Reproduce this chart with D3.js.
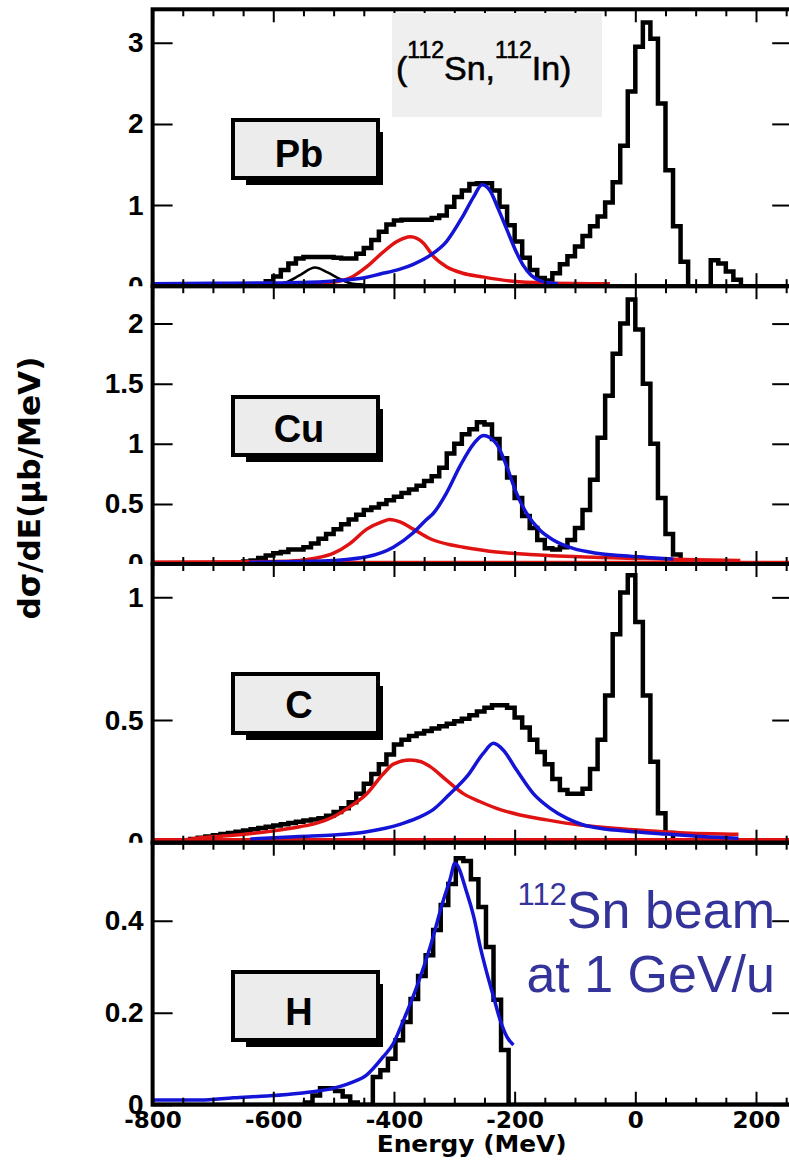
<!DOCTYPE html>
<html>
<head>
<meta charset="utf-8">
<script src="https://cdn.jsdelivr.net/npm/d3@7"></script>
<style>
  body { margin: 0; background: #fff; }
  svg { display: block; }
</style>
</head>
<body>
<svg id="chart"></svg>
<script>
// energy axis, one x scale shared by the four panels
const energyDomain = [-800, 260];
const energyLabels = [-800, -600, -400, -200, 0, 200];

const targets = ['Pb', 'Cu', 'C', 'H'];
const yMax = [3.412, 2.311, 1.136, 0.5696];
const yTickValues = [[0, 1, 2, 3], [0, 0.5, 1, 1.5, 2], [0, 0.5, 1], [0, 0.2, 0.4]];

// histograms, 12.5 MeV bins: first bin low edge + contents (ub/MeV)
const binWidth = 12.5;
const pbStart = -625;
const pbCounts = [
  0.02, 0.06, 0.12, 0.2, 0.28, 0.34, 0.36, 0.36,
  0.36, 0.36, 0.35, 0.34, 0.34, 0.4, 0.47, 0.57,
  0.67, 0.76, 0.81, 0.82, 0.82, 0.82, 0.82, 0.84,
  0.87, 0.98, 1.1, 1.18, 1.26, 1.27, 1.27, 1.18,
  0.98, 0.75, 0.55, 0.35, 0.2, 0.1, 0.07, 0.16,
  0.27, 0.37, 0.49, 0.62, 0.74, 0.86, 1.03, 1.28,
  1.73, 2.4, 2.95, 3.25, 3.05, 2.25, 1.43, 0.74,
  0.3, 0, 0, 0, 0.32, 0.28, 0.18, 0.08
];
const cuStart = -650;
const cuCounts = [
  0.02, 0.03, 0.05, 0.07, 0.09, 0.1, 0.12, 0.12,
  0.14, 0.17, 0.21, 0.25, 0.29, 0.33, 0.37, 0.41,
  0.45, 0.47, 0.5, 0.53, 0.56, 0.59, 0.62, 0.65,
  0.69, 0.73, 0.8, 0.92, 1.0, 1.08, 1.12, 1.18,
  1.16, 1.04, 0.88, 0.72, 0.55, 0.4, 0.3, 0.2,
  0.13, 0.12, 0.14, 0.2, 0.3, 0.45, 0.7, 1.05,
  1.4, 1.75, 2.0, 2.2, 1.95, 1.5, 1.0, 0.55,
  0.25, 0.08
];
const cStart = -762.5;
const cCounts = [
  0.005, 0.01, 0.015, 0.02, 0.025, 0.03, 0.035, 0.04,
  0.045, 0.05, 0.055, 0.06, 0.065, 0.07, 0.075, 0.08,
  0.085, 0.09, 0.095, 0.1, 0.11, 0.125, 0.14, 0.165,
  0.2, 0.24, 0.28, 0.32, 0.36, 0.4, 0.42, 0.435,
  0.445, 0.455, 0.465, 0.475, 0.485, 0.495, 0.505, 0.52,
  0.535, 0.55, 0.56, 0.56, 0.55, 0.51, 0.47, 0.42,
  0.37, 0.32, 0.26, 0.215, 0.2, 0.2, 0.22, 0.3,
  0.42, 0.6, 0.85, 1.02, 1.09, 0.9, 0.6, 0.33,
  0.12, 0.04
];
const hStart = -547.5;
const hCounts = [
  0.005, 0.02, 0.036, 0.036, 0.03, 0.018, 0.005, 0,
  0, 0.06, 0.075, 0.1, 0.14, 0.18, 0.23, 0.28,
  0.325, 0.38, 0.434, 0.48, 0.536, 0.53, 0.49, 0.43,
  0.343, 0.228, 0.119
];

// fit components, [energy, value]
const pbBlue = [[-800, 0.03], [-700, 0.035], [-600, 0.04], [-556, 0.045], [-500, 0.065], [-445, 0.11],
  [-423, 0.15], [-390, 0.21], [-368, 0.27], [-340, 0.38], [-313, 0.55], [-286, 0.86], [-268, 1.1],
  [-254, 1.25], [-241, 1.18], [-227, 0.95], [-213, 0.7], [-199, 0.45], [-186, 0.26], [-172, 0.13],
  [-158, 0.07], [-141, 0.04], [-128, 0.03]];
const pbRed = [[-800, 0.02], [-600, 0.025], [-556, 0.03], [-501, 0.05], [-468, 0.12], [-445, 0.24],
  [-418, 0.42], [-395, 0.55], [-373, 0.61], [-351, 0.53], [-335, 0.37], [-313, 0.24], [-286, 0.16],
  [-257, 0.12], [-203, 0.06], [-147, 0.04], [-42, 0.03]];
const pbBump = [[-620, 0.015], [-600, 0.02], [-578, 0.05], [-555, 0.14], [-531, 0.23], [-510, 0.17],
  [-490, 0.09], [-468, 0.03], [-450, 0.02]];

const cuBlue = [[-640, 0.015], [-560, 0.02], [-500, 0.03], [-445, 0.06], [-401, 0.14], [-368, 0.26],
  [-346, 0.37], [-335, 0.42], [-313, 0.59], [-291, 0.81], [-268, 1.0], [-252, 1.07], [-230, 1.0],
  [-213, 0.81], [-197, 0.59], [-180, 0.42], [-158, 0.28], [-136, 0.2], [-103, 0.13], [-64, 0.09],
  [-25, 0.07], [19, 0.055], [63, 0.04]];
const cuRed = [[-800, 0.015], [-600, 0.02], [-556, 0.03], [-528, 0.05], [-500, 0.09], [-473, 0.17],
  [-445, 0.29], [-420, 0.35], [-407, 0.37], [-390, 0.35], [-368, 0.29], [-340, 0.21], [-307, 0.16],
  [-285, 0.14], [-230, 0.1], [-175, 0.08], [-92, 0.06], [19, 0.045], [100, 0.035], [174, 0.03]];
const cuRedFlat = [[-800, 0.012], [260, 0.012]];

const cBlue = [[-638, 0.015], [-556, 0.025], [-500, 0.031], [-445, 0.045], [-390, 0.075], [-362, 0.1],
  [-335, 0.135], [-307, 0.2], [-279, 0.27], [-252, 0.364], [-235, 0.405], [-219, 0.378], [-197, 0.297],
  [-169, 0.2], [-141, 0.14], [-114, 0.1], [-86, 0.072], [-59, 0.059], [-3, 0.045], [52, 0.035],
  [110, 0.025], [171, 0.018]];
const cRed = [[-800, 0.01], [-750, 0.012], [-721, 0.02], [-666, 0.03], [-611, 0.045], [-556, 0.065],
  [-528, 0.08], [-500, 0.106], [-473, 0.147], [-445, 0.2], [-418, 0.28], [-401, 0.32], [-373, 0.337],
  [-355, 0.33], [-340, 0.31], [-313, 0.255], [-285, 0.2], [-257, 0.167], [-230, 0.14], [-191, 0.113],
  [-147, 0.093], [-92, 0.072], [-36, 0.059], [19, 0.049], [74, 0.041], [129, 0.036], [171, 0.034]];
const cRedFlat = [[-800, 0.012], [260, 0.012]];

const hBlue = [[-800, 0.01], [-721, 0.01], [-666, 0.015], [-611, 0.019], [-556, 0.025], [-500, 0.036],
  [-473, 0.047], [-445, 0.065], [-418, 0.104], [-401, 0.133], [-390, 0.165], [-379, 0.2], [-362, 0.257],
  [-340, 0.343], [-318, 0.445], [-307, 0.49], [-299, 0.525], [-279, 0.46], [-268, 0.41], [-257, 0.343],
  [-246, 0.286], [-235, 0.235], [-224, 0.184], [-213, 0.148], [-202, 0.13]];

const red = '#e01212';
const blue = '#1414d6';

const histograms = [[pbStart, pbCounts], [cuStart, cuCounts], [cStart, cCounts], [hStart, hCounts]];
const fits = [
  [{ pts: pbBump, color: '#000', w: 2.5 }, { pts: pbRed, color: red, w: 3.5 }, { pts: pbBlue, color: blue, w: 3.5 }],
  [{ pts: cuRedFlat, color: red, w: 3.5 }, { pts: cuRed, color: red, w: 3.5 }, { pts: cuBlue, color: blue, w: 3.5 }],
  [{ pts: cRedFlat, color: red, w: 3.5 }, { pts: cRed, color: red, w: 3.5 }, { pts: cBlue, color: blue, w: 3.5 }],
  [{ pts: hBlue, color: blue, w: 3.5 }]
];

// layout
const W = 789, H = 1166;
const panelPx = [
  { top: 9.3, bottom: 286.2 },
  { top: 286.2, bottom: 564 },
  { top: 564, bottom: 842.7 },
  { top: 842.7, bottom: 1104.7 }
];
const boxPx = [
  { y: 120, h: 58, base: 167 },
  { y: 397, h: 58, base: 442 },
  { y: 674, h: 59, base: 718 },
  { y: 972, h: 68, base: 1025 }
];

const svg = d3.select('#chart').attr('width', W).attr('height', H);
const defs = svg.append('defs');

const x = d3.scaleLinear().domain(energyDomain).range([152.6, 792.2]);
const [xl, xr] = x.range();

const majorTicks = [-800, -600, -400, -200, 0, 200];
const minorTicks = d3.range(-750, 260, 50).filter(v => (v + 800) % 200 !== 0);

function stepPoints(start, counts) {
  const pts = [[energyDomain[0], 0]];
  counts.forEach((c, k) => pts.push([start + k * binWidth, c]));
  pts.push([start + counts.length * binWidth, 0]);
  pts.push([energyDomain[1], 0]);
  return pts;
}

function styleTicks(g, w) {
  g.select('.domain').remove();
  g.selectAll('line').attr('stroke', '#000').attr('stroke-width', w);
}

targets.forEach((name, i) => {
  const p = panelPx[i];
  const y = d3.scaleLinear().domain([0, yMax[i]]).range([p.bottom, p.top]);
  const panel = svg.append('g').attr('class', 'panel');

  defs.append('clipPath').attr('id', 'plot' + i)
    .append('rect')
    .attr('x', xl).attr('y', p.top)
    .attr('width', xr - xl).attr('height', p.bottom - p.top);

  // tick labels of the upper panels are cut at the panel's lower edge
  defs.append('clipPath').attr('id', 'lab' + i)
    .append('rect')
    .attr('x', 0).attr('y', p.top - 40)
    .attr('width', xl + 30)
    .attr('height', p.bottom - p.top + 40 + (i === 3 ? 60 : 0));

  const plot = panel.append('g').attr('clip-path', `url(#plot${i})`);

  // histogram
  const [start, counts] = histograms[i];
  const step = d3.line()
    .x(d => x(d[0]))
    .y(d => y(d[1]))
    .curve(d3.curveStepAfter);
  plot.append('path')
    .attr('d', step(stepPoints(start, counts)))
    .attr('fill', 'none')
    .attr('stroke', '#000')
    .attr('stroke-width', 4.5)
    .attr('stroke-linejoin', 'miter');

  // fits
  const smooth = d3.line()
    .x(d => x(d[0]))
    .y(d => y(d[1]))
    .curve(d3.curveMonotoneX);
  fits[i].forEach(f => {
    plot.append('path')
      .attr('d', smooth(f.pts))
      .attr('fill', 'none')
      .attr('stroke', f.color)
      .attr('stroke-width', f.w)
      .attr('stroke-linejoin', 'round');
  });

  // y ticks, left with labels and right without
  panel.append('g')
    .attr('clip-path', `url(#lab${i})`)
    .append('g')
    .attr('transform', `translate(${xl},0)`)
    .call(d3.axisLeft(y).tickValues(yTickValues[i]).tickSizeInner(-20).tickSizeOuter(0)
      .tickPadding(9).tickFormat(d3.format('~g')))
    .call(g => styleTicks(g, 2))
    .call(g => g.selectAll('text')
      .attr('font-family', '"Liberation Sans", Arial, sans-serif')
      .attr('font-weight', 'bold')
      .attr('font-size', 28)
      .attr('fill', '#000'));

  panel.append('g')
    .attr('transform', `translate(${xr},0)`)
    .call(d3.axisRight(y).tickValues(yTickValues[i]).tickSizeInner(-20).tickSizeOuter(0).tickFormat(''))
    .call(g => styleTicks(g, 2));

  // x ticks on top and bottom edges, pointing inward
  [[minorTicks, 7], [majorTicks, 13]].forEach(([vals, len]) => {
    panel.append('g')
      .attr('transform', `translate(0,${p.top})`)
      .call(d3.axisTop(x).tickValues(vals).tickSizeInner(-len).tickSizeOuter(0).tickFormat(''))
      .call(g => styleTicks(g, 2));
    panel.append('g')
      .attr('transform', `translate(0,${p.bottom})`)
      .call(d3.axisBottom(x).tickValues(vals).tickSizeInner(-len).tickSizeOuter(0).tickFormat(''))
      .call(g => styleTicks(g, 2));
  });

  // frame
  panel.append('rect')
    .attr('x', xl).attr('y', p.top)
    .attr('width', xr - xl).attr('height', p.bottom - p.top)
    .attr('fill', 'none')
    .attr('stroke', '#000')
    .attr('stroke-width', 4);

  // target label box with shadow
  const b = boxPx[i];
  const bx = 233, bw = 145;
  panel.append('rect')
    .attr('x', bx + 13).attr('y', b.y + 12)
    .attr('width', bw - 8).attr('height', b.h - 5)
    .attr('fill', '#000');
  panel.append('rect')
    .attr('x', bx).attr('y', b.y)
    .attr('width', bw).attr('height', b.h)
    .attr('fill', '#ececec')
    .attr('stroke', '#000')
    .attr('stroke-width', 4);
  panel.append('text')
    .attr('x', 299).attr('y', b.base)
    .attr('text-anchor', 'middle')
    .attr('font-family', '"Liberation Sans", Arial, sans-serif')
    .attr('font-weight', 'bold')
    .attr('font-size', 38)
    .text(name);

  if (i === 3) {
    panel.append('g')
      .attr('transform', `translate(0,${p.bottom})`)
      .call(d3.axisBottom(x).tickValues(energyLabels).tickSize(0).tickPadding(7)
        .tickFormat(d => String(d)))
      .call(g => g.select('.domain').remove())
      .call(g => g.selectAll('text')
        .attr('font-family', '"DejaVu Sans", sans-serif')
        .attr('font-weight', 'bold')
        .attr('font-size', 23)
        .attr('fill', '#000'));
  }
});

// reaction label
svg.append('rect')
  .attr('x', 392).attr('y', 13)
  .attr('width', 210).attr('height', 104)
  .attr('fill', '#efefef');
const react = svg.append('text')
  .attr('x', 396).attr('y', 80)
  .attr('font-family', '"Liberation Sans", Arial, sans-serif')
  .attr('font-size', 34)
  .attr('fill', '#000')
  .attr('stroke', '#000')
  .attr('stroke-width', 0.6);
react.append('tspan').text('(');
react.append('tspan').attr('font-size', 23).attr('dy', -22).text('112');
react.append('tspan').attr('dy', 22).text('Sn,');
react.append('tspan').attr('font-size', 23).attr('dy', -22).text('112');
react.append('tspan').attr('dy', 22).text('In)');

// beam note
const beam = svg.append('g')
  .attr('font-family', '"Liberation Sans", Arial, sans-serif')
  .attr('fill', '#333399')
  .attr('text-anchor', 'end');
const line1 = beam.append('text').attr('x', 775).attr('y', 928).attr('font-size', 52);
line1.append('tspan').attr('font-size', 31).attr('dy', -23).text('112');
line1.append('tspan').attr('dy', 23).text('Sn beam');
beam.append('text').attr('x', 775).attr('y', 992).attr('font-size', 52).text('at 1 GeV/u');

// axis titles
svg.append('text')
  .attr('x', 471.7).attr('y', 1152)
  .attr('text-anchor', 'middle')
  .attr('font-family', '"DejaVu Sans", sans-serif')
  .attr('font-weight', 'bold')
  .attr('font-size', 23)
  .attr('textLength', 190)
  .attr('lengthAdjust', 'spacingAndGlyphs')
  .text('Energy (MeV)');

svg.append('text')
  .attr('transform', 'translate(40,488) rotate(-90)')
  .attr('text-anchor', 'middle')
  .attr('font-family', '"DejaVu Sans", sans-serif')
  .attr('font-weight', 'bold')
  .attr('font-size', 31)
  .attr('textLength', 263)
  .attr('lengthAdjust', 'spacingAndGlyphs')
  .text('dσ/dE(μb/MeV)');
</script>
</body>
</html>
